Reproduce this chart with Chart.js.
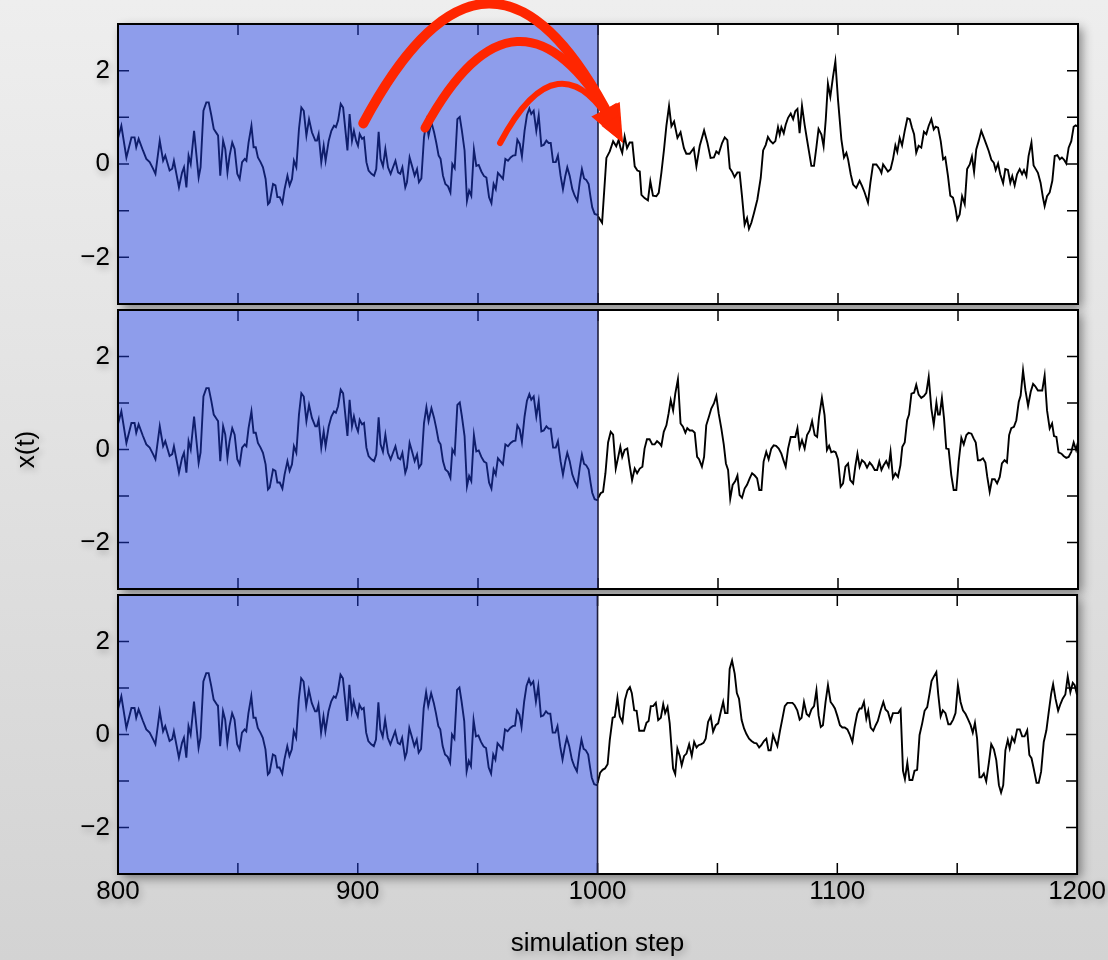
<!DOCTYPE html>
<html>
<head>
<meta charset="utf-8">
<title>x(t) history and forecasts</title>
<script src="https://cdn.jsdelivr.net/npm/chart.js@4.4.1/dist/chart.umd.min.js"></script>
<style>
html, body { margin: 0; padding: 0; }
body {
    width: 1108px;
    height: 960px;
    overflow: hidden;
    background: linear-gradient(#eeeeee, #d3d3d3);
}
.panel { position: absolute; left: 0; top: 0; width: 1108px; height: 960px; }
</style>
</head>
<body>
<div class="panel"><canvas id="panelTop"></canvas></div>
<div class="panel"><canvas id="panelMiddle"></canvas></div>
<div class="panel"><canvas id="panelBottom"></canvas></div>
<script>
// Data (simulation step, x(t))
// shared history, 800..1000, drawn in all three panels
var historySteps = [
    800.0, 801.4, 803.5, 805.6, 806.9, 807.6, 808.6, 810.4, 811.8, 813.2,
    814.6, 815.6, 817.4, 818.8, 819.7, 821.5, 822.6, 823.3, 825.4, 826.7,
    827.5, 828.5, 829.4, 830.3, 831.7, 833.6, 834.4, 835.6, 836.8, 837.8,
    838.9, 839.9, 841.3, 841.7, 842.6, 843.8, 844.7, 845.6, 846.5, 847.6,
    848.6, 849.7, 850.7, 851.7, 852.8, 853.5, 854.4, 855.6, 856.5, 857.4,
    858.3, 859.4, 860.4, 861.5, 862.5, 863.2, 864.6, 865.6, 866.4, 867.4,
    868.5, 869.4, 870.6, 871.5, 872.5, 873.3, 874.3, 875.4, 876.4, 877.4,
    878.5, 879.6, 880.8, 882.2, 882.9, 883.6, 884.7, 885.7, 886.5, 887.8,
    888.9, 890.0, 890.8, 891.7, 892.8, 893.8, 895.6, 896.5, 897.5, 898.3,
    899.2, 900.0, 900.7, 901.7, 902.5, 903.5, 904.4, 905.6, 906.7, 907.6,
    908.6, 909.4, 910.4, 911.4, 912.5, 913.6, 914.6, 915.6, 916.7, 917.6,
    918.5, 919.7, 920.4, 921.5, 922.5, 923.6, 924.6, 925.4, 926.4, 927.5,
    928.5, 929.4, 930.6, 931.7, 932.6, 933.6, 934.4, 935.4, 936.4, 937.5,
    938.5, 939.3, 940.3, 941.4, 942.4, 943.3, 944.4, 945.4, 946.3, 947.2,
    948.3, 949.3, 950.3, 951.4, 952.5, 953.5, 954.6, 955.6, 956.5, 957.4,
    958.3, 959.3, 960.4, 961.4, 962.5, 963.6, 964.6, 965.6, 966.4, 967.4,
    968.3, 969.4, 970.4, 971.4, 972.2, 973.2, 974.3, 975.3, 976.4, 977.4,
    978.5, 979.4, 980.3, 981.3, 982.4, 983.3, 984.4, 985.4, 986.4, 987.2,
    988.2, 989.3, 990.3, 991.4, 992.4, 993.3, 994.2, 995.1, 996.1, 996.9,
    997.6, 998.6, 999.7, 1000.0
];
var historyValues = [
    0.55, 0.82, 0.14, 0.57, 0.57, 0.36, 0.54, 0.29, 0.11, 0.04,
    -0.10, -0.21, 0.50, 0.07, 0.18, -0.14, -0.10, 0.07, -0.50, -0.18,
    -0.07, -0.50, 0.18, 0.00, 0.71, -0.29, -0.07, 1.14, 1.32, 1.32,
    1.04, 0.75, 0.64, 0.61, -0.25, 0.50, 0.32, -0.18, 0.18, 0.46,
    0.32, -0.21, -0.32, 0.04, 0.11, 0.07, 0.46, 0.82, 0.36, 0.36,
    0.14, 0.04, -0.07, -0.32, -0.86, -0.82, -0.43, -0.46, -0.71, -0.71,
    -0.84, -0.54, -0.25, -0.46, -0.32, 0.07, -0.07, 0.75, 1.21, 1.14,
    0.61, 0.96, 0.68, 0.50, 0.50, 0.64, 0.04, 0.39, 0.07, 0.50,
    0.71, 0.82, 0.79, 0.93, 1.29, 1.21, 0.29, 1.07, 0.50, 0.71,
    0.50, 0.39, 0.64, 0.54, 0.57, 0.04, -0.14, -0.21, -0.25, -0.11,
    0.69, 0.11, -0.05, 0.32, -0.07, -0.21, -0.07, 0.07, -0.18, -0.21,
    -0.07, -0.50, -0.39, 0.14, -0.04, -0.25, -0.11, -0.39, -0.31, 0.57,
    0.91, 0.61, 0.89, 0.68, 0.46, 0.18, 0.11, -0.25, -0.43, -0.48,
    -0.61, 0.00, -0.09, 0.96, 1.01, 0.71, 0.29, -0.79, -0.57, -0.68,
    0.31, -0.04, -0.02, -0.16, -0.26, -0.29, -0.71, -0.84, -0.43, -0.54,
    -0.19, -0.25, -0.32, 0.11, 0.07, 0.14, 0.18, 0.19, 0.52, 0.43,
    0.16, 0.71, 1.05, 1.19, 1.07, 1.14, 0.71, 1.04, 0.39, 0.41,
    0.50, 0.45, 0.45, 0.04, 0.04, 0.18, -0.25, -0.54, -0.25, -0.07,
    -0.25, -0.54, -0.68, -0.79, -0.39, -0.11, -0.31, -0.34, -0.43, -0.71,
    -0.93, -1.07, -1.09, -1.07
];

// continuation in the top panel
var futureStepsA = [
    1000.0, 1001.7, 1003.5, 1004.9, 1006.3, 1007.6, 1008.6, 1009.4, 1010.1, 1011.1,
    1012.1, 1013.2, 1014.3, 1015.3, 1016.4, 1017.4, 1018.1, 1019.4, 1020.8, 1021.8,
    1022.9, 1024.3, 1025.3, 1026.4, 1027.5, 1028.5, 1029.6, 1030.6, 1031.7, 1033.1,
    1034.4, 1035.8, 1036.8, 1038.2, 1039.9, 1041.0, 1042.4, 1044.2, 1045.6, 1046.9,
    1048.3, 1049.3, 1050.3, 1051.7, 1052.8, 1053.9, 1054.9, 1055.8, 1056.9, 1058.1,
    1059.0, 1060.0, 1061.1, 1062.1, 1062.9, 1063.9, 1065.0, 1066.4, 1067.8, 1068.8,
    1069.9, 1070.8, 1071.9, 1072.9, 1073.9, 1075.0, 1075.7, 1076.4, 1077.4, 1078.2,
    1079.2, 1080.3, 1081.3, 1082.2, 1083.1, 1084.0, 1085.0, 1086.1, 1087.1, 1087.9,
    1088.9, 1090.0, 1091.0, 1091.9, 1093.1, 1094.0, 1094.9, 1095.8, 1096.8, 1097.9,
    1098.9, 1100.0, 1101.4, 1102.5, 1103.5, 1104.2, 1105.3, 1106.3, 1107.6, 1109.0,
    1110.0, 1111.1, 1112.5, 1113.5, 1114.6, 1116.0, 1117.4, 1118.1, 1118.8, 1119.9,
    1120.8, 1121.9, 1122.9, 1123.9, 1124.7, 1125.7, 1126.7, 1127.8, 1128.9, 1129.9,
    1130.8, 1131.7, 1132.6, 1133.6, 1134.7, 1135.8, 1136.8, 1137.8, 1138.9, 1139.9,
    1140.7, 1141.7, 1142.8, 1143.8, 1144.7, 1145.8, 1146.8, 1147.9, 1148.9, 1149.7,
    1150.7, 1151.7, 1152.8, 1153.8, 1154.9, 1155.8, 1156.7, 1157.6, 1158.6, 1159.7,
    1160.8, 1161.8, 1162.8, 1163.9, 1164.9, 1165.7, 1166.7, 1167.6, 1168.8, 1169.7,
    1170.8, 1171.8, 1172.6, 1173.6, 1174.6, 1175.7, 1176.7, 1177.5, 1178.5, 1179.4,
    1180.6, 1181.5, 1182.4, 1183.3, 1184.4, 1185.4, 1186.1, 1187.1, 1188.2, 1189.3,
    1190.3, 1191.4, 1192.4, 1193.3, 1194.2, 1195.1, 1196.1, 1197.2, 1198.2, 1199.0,
    1200.0
];
var futureValuesA = [
    -1.12, -1.26, 0.13, 0.27, 0.49, 0.38, 0.52, 0.34, 0.24, 0.59,
    0.34, 0.46, 0.46, -0.05, -0.14, -0.16, -0.66, -0.73, -0.78, -0.37,
    -0.68, -0.69, -0.62, -0.19, 0.31, 0.82, 1.24, 0.81, 0.91, 0.56,
    0.68, 0.34, 0.22, 0.22, 0.34, -0.05, 0.39, 0.72, 0.45, 0.13,
    0.14, 0.27, 0.22, 0.45, 0.57, 0.51, -0.09, -0.16, -0.28, -0.18,
    -0.18, -0.69, -1.30, -1.16, -1.39, -1.26, -1.05, -0.76, -0.30, 0.29,
    0.41, 0.58, 0.49, 0.44, 0.49, 0.79, 0.63, 0.79, 0.66, 0.84,
    0.99, 1.08, 0.96, 1.13, 1.18, 0.66, 1.25, 0.84, 0.52, 0.27,
    -0.04, -0.04, 0.36, 0.75, 0.63, 0.38, 0.95, 1.72, 1.44, 1.86,
    2.20, 1.38, 0.53, 0.14, 0.24, 0.10, -0.22, -0.44, -0.51, -0.36,
    -0.47, -0.61, -0.83, -0.40, -0.01, -0.01, -0.11, -0.19, -0.01, -0.09,
    -0.16, -0.11, 0.10, 0.40, 0.26, 0.56, 0.40, 0.71, 0.98, 0.96,
    0.78, 0.64, 0.24, 0.39, 0.35, 0.69, 0.64, 0.82, 0.96, 0.74,
    0.80, 0.78, 0.49, 0.10, 0.14, -0.25, -0.68, -0.72, -0.93, -1.19,
    -1.08, -0.69, -0.86, -0.11, -0.01, 0.16, -0.17, 0.31, 0.49, 0.71,
    0.56, 0.42, 0.28, 0.09, 0.03, -0.13, 0.01, -0.22, -0.41, -0.11,
    -0.13, -0.40, -0.26, -0.46, -0.22, -0.11, -0.22, -0.13, -0.26, 0.17,
    0.46, -0.03, -0.11, -0.19, -0.40, -0.72, -0.90, -0.69, -0.61, -0.36,
    0.17, 0.19, 0.10, 0.14, 0.09, 0.01, 0.35, 0.49, 0.80, 0.83,
    0.80
];

// continuation in the middle panel
var futureStepsB = [
    1000.0, 1001.1, 1002.1, 1003.1, 1004.2, 1005.3, 1006.3, 1007.4, 1008.3, 1009.3,
    1010.1, 1011.1, 1012.2, 1013.2, 1014.2, 1015.3, 1016.3, 1017.4, 1018.5, 1019.4,
    1020.4, 1021.5, 1022.6, 1023.6, 1024.6, 1025.7, 1026.4, 1027.4, 1028.5, 1029.4,
    1030.3, 1031.3, 1032.2, 1033.3, 1034.4, 1035.4, 1036.4, 1037.2, 1038.2, 1039.3,
    1040.3, 1041.3, 1042.1, 1043.3, 1044.2, 1045.1, 1046.3, 1047.2, 1048.3, 1049.3,
    1050.3, 1051.4, 1052.4, 1053.3, 1054.2, 1055.1, 1056.1, 1057.2, 1058.1, 1059.0,
    1060.0, 1061.1, 1062.1, 1063.2, 1064.2, 1065.3, 1066.3, 1067.2, 1068.1, 1069.0,
    1070.1, 1071.1, 1072.2, 1073.2, 1074.2, 1075.3, 1076.4, 1077.4, 1078.2, 1079.2,
    1080.3, 1081.3, 1082.2, 1083.1, 1084.0, 1085.0, 1086.1, 1087.1, 1088.2, 1089.2,
    1090.3, 1091.3, 1092.1, 1093.3, 1094.4, 1095.4, 1096.3, 1097.2, 1098.2, 1099.0,
    1100.0, 1101.1, 1102.1, 1103.1, 1104.2, 1105.1, 1106.3, 1107.2, 1108.1, 1109.0,
    1110.0, 1111.1, 1112.1, 1113.2, 1114.2, 1115.3, 1116.3, 1117.2, 1118.1, 1119.0,
    1120.1, 1121.1, 1121.9, 1122.9, 1123.9, 1125.0, 1126.0, 1126.8, 1127.8, 1128.8,
    1129.6, 1130.6, 1131.7, 1132.6, 1133.6, 1134.7, 1135.8, 1136.8, 1137.8, 1138.9,
    1139.9, 1141.0, 1141.7, 1142.4, 1143.3, 1144.2, 1145.1, 1146.1, 1147.2, 1148.2,
    1149.3, 1150.3, 1151.4, 1152.4, 1153.5, 1154.4, 1155.6, 1156.5, 1157.4, 1158.3,
    1159.3, 1160.4, 1161.4, 1162.2, 1163.2, 1164.2, 1165.3, 1166.3, 1167.4, 1168.3,
    1169.4, 1170.4, 1171.3, 1172.2, 1173.3, 1174.3, 1175.3, 1176.1, 1177.1, 1178.1,
    1179.2, 1180.3, 1181.3, 1182.2, 1183.3, 1184.3, 1185.1, 1186.1, 1187.1, 1188.2,
    1189.2, 1190.0, 1191.0, 1191.9, 1193.1, 1194.0, 1195.1, 1196.1, 1197.2, 1198.2,
    1199.2, 1200.0
];
var futureValuesB = [
    -1.05, -0.94, -0.91, -0.51, 0.15, 0.38, 0.32, -0.41, -0.19, 0.06,
    -0.16, -0.01, 0.02, -0.34, -0.66, -0.41, -0.51, -0.41, -0.37, 0.02,
    0.22, 0.22, 0.11, 0.11, 0.18, 0.13, 0.08, 0.38, 0.52, 0.77,
    1.06, 0.84, 1.20, 1.51, 0.56, 0.49, 0.36, 0.46, 0.41, 0.41,
    0.36, -0.16, -0.21, -0.37, -0.16, 0.52, 0.72, 0.88, 0.99, 1.15,
    0.77, 0.45, 0.11, -0.30, -0.44, -1.06, -0.76, -0.68, -0.56, -0.98,
    -1.04, -0.84, -0.76, -0.62, -0.51, -0.56, -0.62, -0.87, -0.87, -0.26,
    -0.05, -0.21, 0.02, 0.09, 0.08, 0.02, -0.09, -0.25, -0.37, 0.02,
    0.27, 0.27, 0.27, 0.46, 0.04, 0.20, 0.02, 0.31, 0.41, 0.61,
    0.31, 0.27, 0.70, 1.11, 0.74, -0.01, 0.08, -0.06, -0.04, -0.06,
    -0.21, -0.80, -0.73, -0.37, -0.30, -0.66, -0.73, -0.37, -0.09, -0.37,
    -0.23, -0.28, -0.39, -0.28, -0.34, -0.44, -0.44, -0.26, -0.44, -0.34,
    -0.25, -0.37, -0.05, -0.61, -0.51, -0.59, -0.34, 0.06, 0.15, 0.63,
    0.75, 1.20, 1.22, 1.39, 1.18, 1.11, 1.15, 1.22, 1.56, 0.88,
    0.54, 1.01, 0.75, 0.75, 1.11, 0.66, 0.02, 0.01, -0.55, -0.87,
    -0.87, -0.25, 0.25, 0.11, 0.31, 0.36, 0.34, 0.24, 0.15, -0.23,
    -0.23, -0.19, -0.28, -0.59, -0.91, -0.64, -0.64, -0.73, -0.59, -0.30,
    -0.23, -0.28, 0.31, 0.46, 0.49, 0.63, 1.02, 1.16, 1.70, 1.27,
    0.94, 1.24, 1.41, 1.36, 1.27, 1.27, 1.27, 1.59, 0.84, 0.45,
    0.56, 0.29, 0.27, -0.06, -0.09, -0.14, -0.18, -0.16, -0.05, 0.15,
    -0.01, 0.16
];

// continuation in the bottom panel
var futureStepsC = [
    1000.0, 1001.1, 1002.1, 1003.1, 1004.2, 1005.1, 1006.3, 1007.2, 1008.3, 1009.3,
    1010.4, 1011.4, 1012.5, 1013.5, 1014.3, 1015.3, 1016.3, 1017.4, 1018.3, 1019.4,
    1020.4, 1021.3, 1022.2, 1023.2, 1024.3, 1025.3, 1026.4, 1027.4, 1028.2, 1029.2,
    1030.1, 1030.8, 1031.5, 1032.4, 1033.3, 1034.3, 1035.1, 1036.1, 1037.1, 1038.2,
    1039.3, 1040.3, 1041.3, 1042.1, 1043.1, 1044.2, 1045.1, 1046.1, 1047.2, 1048.2,
    1049.3, 1050.3, 1051.4, 1052.4, 1053.2, 1054.2, 1055.1, 1056.1, 1057.2, 1058.1,
    1059.0, 1060.1, 1061.1, 1062.1, 1063.2, 1064.2, 1065.3, 1066.3, 1067.4, 1068.3,
    1069.4, 1070.4, 1071.3, 1072.2, 1073.2, 1074.0, 1075.0, 1076.1, 1077.1, 1078.1,
    1079.2, 1080.3, 1081.3, 1082.2, 1083.3, 1084.3, 1085.1, 1086.1, 1087.2, 1088.2,
    1089.2, 1090.3, 1091.3, 1092.2, 1093.1, 1094.0, 1095.1, 1096.1, 1097.2, 1098.2,
    1099.0, 1100.0, 1101.1, 1102.1, 1103.1, 1104.2, 1105.1, 1106.3, 1107.2, 1108.3,
    1109.3, 1110.1, 1111.1, 1112.1, 1112.9, 1113.9, 1115.0, 1116.0, 1116.9, 1118.1,
    1119.2, 1120.1, 1121.1, 1122.2, 1123.2, 1124.3, 1125.4, 1126.4, 1127.4, 1128.2,
    1129.2, 1130.1, 1131.3, 1132.2, 1133.3, 1134.3, 1135.4, 1136.4, 1137.5, 1138.5,
    1139.3, 1140.3, 1141.3, 1142.1, 1143.1, 1144.0, 1145.1, 1146.3, 1147.2, 1148.3,
    1149.3, 1150.3, 1151.4, 1152.4, 1153.5, 1154.4, 1155.6, 1156.5, 1157.4, 1158.3,
    1159.3, 1160.1, 1161.1, 1162.1, 1163.2, 1164.2, 1165.3, 1166.3, 1167.4, 1168.3,
    1169.2, 1170.1, 1171.1, 1171.9, 1172.9, 1173.9, 1175.0, 1176.1, 1177.1, 1178.1,
    1179.2, 1180.1, 1181.0, 1181.9, 1183.1, 1184.0, 1185.0, 1186.1, 1187.2, 1188.2,
    1189.2, 1190.0, 1191.0, 1192.1, 1193.1, 1194.0, 1195.1, 1196.1, 1197.2, 1198.2,
    1199.0, 1200.0
];
var futureValuesC = [
    -1.05, -0.82, -0.76, -0.73, -0.64, -0.12, 0.36, 0.38, 0.79, 0.39,
    0.27, 0.74, 0.95, 1.02, 0.89, 0.52, 0.51, 0.08, 0.08, 0.08,
    0.25, 0.29, 0.61, 0.61, 0.68, 0.31, 0.36, 0.65, 0.46, 0.59,
    0.24, -0.25, -0.73, -0.85, -0.30, -0.46, -0.66, -0.46, -0.41, -0.21,
    -0.46, -0.16, -0.28, -0.23, -0.21, -0.18, -0.09, 0.27, 0.39, 0.06,
    0.20, 0.24, 0.49, 0.70, 0.46, 0.46, 1.41, 1.59, 1.31, 0.89,
    0.77, 0.31, 0.13, 0.01, -0.09, -0.14, -0.18, -0.19, -0.28, -0.23,
    -0.14, -0.09, -0.34, -0.34, -0.01, -0.12, -0.25, 0.08, 0.34, 0.61,
    0.68, 0.68, 0.68, 0.63, 0.52, 0.32, 0.36, 0.70, 0.44, 0.39,
    0.54, 0.61, 0.95, 0.41, 0.16, 0.20, 0.70, 1.06, 0.70, 0.63,
    0.56, 0.40, 0.20, 0.15, 0.15, 0.11, 0.01, -0.16, 0.16, 0.45,
    0.56, 0.56, 0.70, 0.34, 0.51, 0.15, 0.08, 0.20, 0.29, 0.52,
    0.70, 0.54, 0.49, 0.29, 0.46, 0.46, 0.46, 0.54, -0.78, -0.96,
    -0.61, -0.98, -0.98, -0.78, -0.76, -0.01, 0.24, 0.51, 0.59, 0.89,
    1.15, 1.25, 1.34, 0.86, 0.39, 0.52, 0.46, 0.22, 0.22, 0.32,
    0.46, 1.06, 0.70, 0.52, 0.44, 0.34, 0.20, 0.04, 0.25, -0.09,
    -0.92, -0.92, -0.84, -1.01, -0.61, -0.21, -0.32, -0.55, -1.09, -1.25,
    -1.09, -0.34, -0.12, -0.30, -0.06, -0.16, 0.11, 0.11, -0.04, -0.04,
    0.09, -0.44, -0.51, -0.73, -1.04, -1.04, -0.80, -0.16, 0.09, 0.49,
    0.88, 1.08, 0.77, 0.51, 0.66, 0.77, 0.86, 1.25, 0.91, 1.11,
    1.06, 0.85
];

var xTickLabels = [800, 900, 1000, 1100, 1200];
var yTickLabels = [-2, 0, 2];
var historyWindow = [800, 1000];

// red arrows in the top panel, in data units: start, top of the arc, tip
var arrowStarts = [[902.2, 0.87], [927.9, 0.77], [959.2, 0.45]];
var arrowPeaks = [[955.7, 3.31], [967.5, 2.52], [984.2, 1.63]];
var arrowTips = [[1010.4, 0.45], [1009.9, 0.58], [1010.5, 0.45]];

// layout
var plotTops = [24, 310, 595];
var plotBottoms = [304, 589, 874];
var arrowWidths = [10, 9, 6];
var arrowHeads = [[38, 16], [32, 13], [26, 10]];
var labelFont = { family: "'Liberation Sans', Helvetica, Arial, sans-serif", size: 26 };

function toPoints(steps, values) {
    return steps.map(function (s, i) { return { x: s, y: values[i] }; });
}

function formatNumber(v) {
    return v < 0 ? '\u2212' + Math.abs(v) : String(v);
}

function drawArrows(chart) {
    var ctx = chart.ctx;
    var x = chart.scales.x, y = chart.scales.y;
    for (var i = 0; i < arrowStarts.length; i++) {
        var sx = x.getPixelForValue(arrowStarts[i][0]), sy = y.getPixelForValue(arrowStarts[i][1]);
        var px = x.getPixelForValue(arrowPeaks[i][0]), py = y.getPixelForValue(arrowPeaks[i][1]);
        var ex = x.getPixelForValue(arrowTips[i][0]), ey = y.getPixelForValue(arrowTips[i][1]);
        // control point so that the curve passes through the peak halfway
        var cx = 2 * px - (sx + ex) / 2, cy = 2 * py - (sy + ey) / 2;
        var dx = ex - cx, dy = ey - cy;
        var len = Math.hypot(dx, dy);
        dx /= len; dy /= len;
        var headLen = arrowHeads[i][0], headHalf = arrowHeads[i][1];
        ctx.save();
        ctx.strokeStyle = '#ff2600';
        ctx.fillStyle = '#ff2600';
        ctx.lineWidth = arrowWidths[i];
        ctx.lineCap = 'round';
        ctx.beginPath();
        ctx.moveTo(sx, sy);
        ctx.quadraticCurveTo(cx, cy, ex - dx * headLen * 0.7, ey - dy * headLen * 0.7);
        ctx.stroke();
        var hx = ex - dx * headLen, hy = ey - dy * headLen;
        ctx.beginPath();
        ctx.moveTo(ex, ey);
        ctx.lineTo(hx - dy * headHalf, hy + dx * headHalf);
        ctx.lineTo(hx + dy * headHalf, hy - dx * headHalf);
        ctx.closePath();
        ctx.fill();
        ctx.restore();
    }
}

var panelDecor = {
    id: 'panelDecor',
    beforeDraw: function (chart) {
        var ctx = chart.ctx, a = chart.chartArea;
        ctx.save();
        ctx.shadowColor = 'rgba(0,0,0,0.45)';
        ctx.shadowBlur = 10;
        ctx.shadowOffsetX = 4;
        ctx.shadowOffsetY = 4;
        ctx.fillStyle = '#ffffff';
        ctx.fillRect(a.left, a.top, a.right - a.left, a.bottom - a.top);
        ctx.restore();
        // soft shadow under the axis texts
        ctx.shadowColor = 'rgba(0,0,0,0.3)';
        ctx.shadowBlur = 7;
        ctx.shadowOffsetX = 2;
        ctx.shadowOffsetY = 3;
    },
    beforeDatasetsDraw: function (chart) {
        var ctx = chart.ctx;
        ctx.shadowColor = 'rgba(0,0,0,0)';
        ctx.shadowBlur = 0;
        ctx.shadowOffsetX = 0;
        ctx.shadowOffsetY = 0;
    },
    afterDatasetsDraw: function (chart) {
        var ctx = chart.ctx, a = chart.chartArea;
        var x = chart.scales.x, y = chart.scales.y;
        var v, p;
        ctx.save();
        // ticks pointing inwards on all four sides
        ctx.strokeStyle = '#000';
        ctx.lineWidth = 1.5;
        ctx.beginPath();
        for (v = x.min + 50; v < x.max; v += 50) {
            p = x.getPixelForValue(v);
            ctx.moveTo(p, a.top); ctx.lineTo(p, a.top + 11);
            ctx.moveTo(p, a.bottom); ctx.lineTo(p, a.bottom - 11);
        }
        for (v = y.min + 1; v < y.max; v += 1) {
            p = y.getPixelForValue(v);
            ctx.moveTo(a.left, p); ctx.lineTo(a.left + 11, p);
            ctx.moveTo(a.right, p); ctx.lineTo(a.right - 11, p);
        }
        ctx.stroke();
        // shaded history window
        var s0 = x.getPixelForValue(historyWindow[0]);
        var s1 = x.getPixelForValue(historyWindow[1]);
        ctx.fillStyle = 'rgba(30,60,215,0.5)';
        ctx.fillRect(s0, a.top, s1 - s0, a.bottom - a.top);
        ctx.strokeStyle = '#1e1e3c';
        ctx.lineWidth = 1.6;
        ctx.beginPath();
        ctx.moveTo(s1, a.top); ctx.lineTo(s1, a.bottom);
        ctx.stroke();
        // frame
        ctx.strokeStyle = '#000';
        ctx.lineWidth = 2;
        ctx.strokeRect(a.left, a.top, a.right - a.left, a.bottom - a.top);
        ctx.restore();
    },
    afterDraw: function (chart, args, opts) {
        if (opts.arrows) drawArrows(chart);
    }
};

function buildPanel(id, index, futureSteps, futureValues) {
    var isBottom = index === 2;
    var lineStyle = { borderColor: '#000', borderWidth: 1.9, pointRadius: 0, tension: 0, fill: false };
    return new Chart(document.getElementById(id), {
        type: 'line',
        data: {
            datasets: [
                Object.assign({ data: toPoints(historySteps, historyValues) }, lineStyle),
                Object.assign({ data: toPoints(futureSteps, futureValues) }, lineStyle)
            ]
        },
        options: {
            responsive: true,
            maintainAspectRatio: false,
            animation: false,
            events: [],
            layout: {
                padding: { top: plotTops[index], bottom: isBottom ? 0 : 960 - plotBottoms[index], left: 0, right: 30 }
            },
            plugins: {
                legend: { display: false },
                tooltip: { enabled: false },
                panelDecor: { arrows: index === 0 }
            },
            scales: {
                x: {
                    type: 'linear',
                    min: 800,
                    max: 1200,
                    display: isBottom,
                    grid: { display: false, drawTicks: false },
                    border: { display: false },
                    ticks: {
                        stepSize: 100,
                        padding: 2,
                        color: '#000',
                        font: labelFont,
                        maxRotation: 0,
                        autoSkip: false,
                        callback: function (v) { return xTickLabels.indexOf(v) >= 0 ? String(v) : ''; }
                    },
                    title: {
                        display: true,
                        text: 'simulation step',
                        color: '#000',
                        font: labelFont,
                        padding: { top: 0, bottom: 1 }
                    },
                    afterFit: function (scale) { scale.height = isBottom ? 960 - plotBottoms[2] : 0; }
                },
                y: {
                    min: -3,
                    max: 3,
                    grid: { display: false, drawTicks: false },
                    border: { display: false },
                    ticks: {
                        stepSize: 1,
                        padding: 8,
                        color: '#000',
                        font: labelFont,
                        autoSkip: false,
                        callback: function (v) { return yTickLabels.indexOf(v) >= 0 ? formatNumber(v) : ''; }
                    },
                    title: {
                        display: index === 1,
                        text: 'x(t)',
                        color: '#000',
                        font: labelFont,
                        padding: { top: 11, bottom: 0 }
                    },
                    afterFit: function (scale) { scale.width = 118; }
                }
            }
        },
        plugins: [panelDecor]
    });
}

buildPanel('panelTop', 0, futureStepsA, futureValuesA);
buildPanel('panelMiddle', 1, futureStepsB, futureValuesB);
buildPanel('panelBottom', 2, futureStepsC, futureValuesC);
</script>
</body>
</html>
